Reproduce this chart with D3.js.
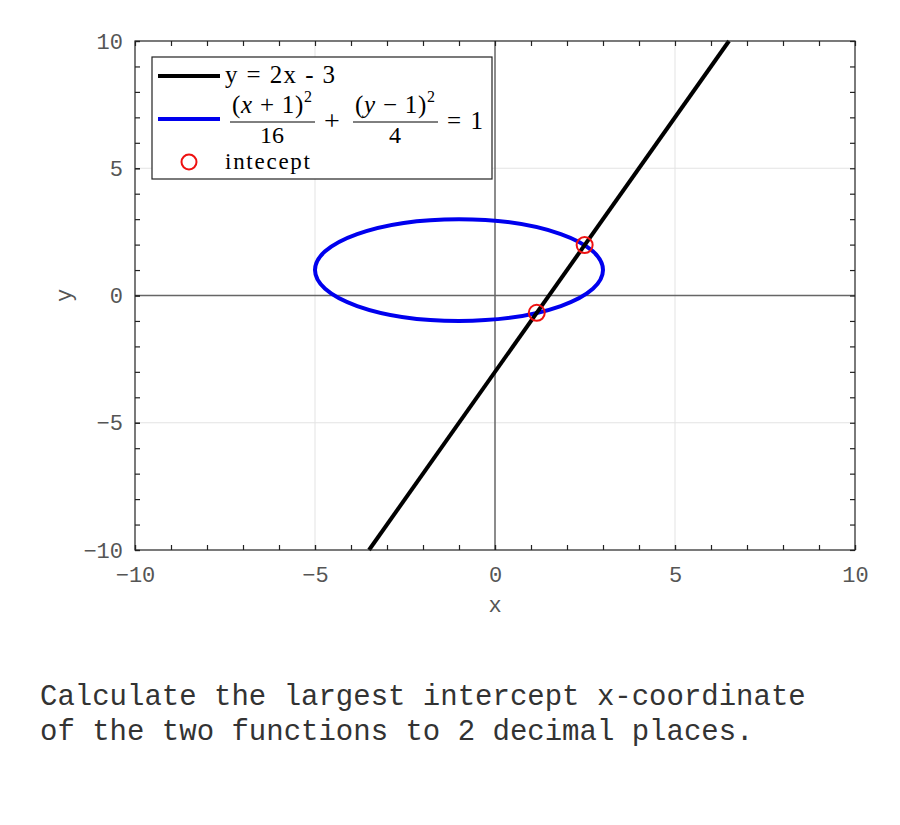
<!DOCTYPE html>
<html>
<head>
<meta charset="utf-8">
<script src="https://cdn.jsdelivr.net/npm/d3@7"></script>
<style>
  body { margin: 0; background: #fff; }
  .tick text { font-family: "Liberation Mono", monospace; font-size: 22px; fill: #555; }
</style>
</head>
<body>
<svg id="chart" width="900" height="825"></svg>
<script>
// data
var xDomain = [-10, 10];
var yDomain = [-10, 10];
var majorTicks = [-10, -5, 0, 5, 10];
var gridValues = [-5, 5];
var lineX = [-3.5, 6.5];          // y = 2x - 3, end points at plot edges
var lineY = [-10, 10];
var ellipseCenter = [-1, 1];      // (x+1)^2/16 + (y-1)^2/4 = 1
var ellipseRadii = [4, 2];
var interceptX = [1.16, 2.49];
var interceptY = [-0.68, 1.98];
var question = ["Calculate the largest intercept x-coordinate",
                "of the two functions to 2 decimal places."];

var margin = { top: 41, right: 45, bottom: 275, left: 135 };
var svgWidth = 900, svgHeight = 825;
var width = svgWidth - margin.left - margin.right;
var height = svgHeight - margin.top - margin.bottom;

var svg = d3.select("#chart");
var chartGroup = svg.append("g")
  .attr("transform", `translate(${margin.left}, ${margin.top})`);

var x = d3.scaleLinear().domain(xDomain).range([0, width]);
var y = d3.scaleLinear().domain(yDomain).range([height, 0]);

// grid lines
chartGroup.selectAll(".gx").data(gridValues).enter().append("line")
  .attr("x1", d => x(d)).attr("x2", d => x(d))
  .attr("y1", 0).attr("y2", height)
  .attr("stroke", "#e3e3e3").attr("stroke-width", 1);
chartGroup.selectAll(".gy").data(gridValues).enter().append("line")
  .attr("y1", d => y(d)).attr("y2", d => y(d))
  .attr("x1", 0).attr("x2", width)
  .attr("stroke", "#e3e3e3").attr("stroke-width", 1);

// x = 0 and y = 0 lines
chartGroup.append("line")
  .attr("x1", x(0)).attr("x2", x(0)).attr("y1", 0).attr("y2", height)
  .attr("stroke", "#666").attr("stroke-width", 1.5);
chartGroup.append("line")
  .attr("x1", 0).attr("x2", width).attr("y1", y(0)).attr("y2", y(0))
  .attr("stroke", "#666").attr("stroke-width", 1.5);

// ellipse
chartGroup.append("ellipse")
  .attr("cx", x(ellipseCenter[0]))
  .attr("cy", y(ellipseCenter[1]))
  .attr("rx", x(ellipseCenter[0] + ellipseRadii[0]) - x(ellipseCenter[0]))
  .attr("ry", y(ellipseCenter[1]) - y(ellipseCenter[1] + ellipseRadii[1]))
  .attr("fill", "none")
  .attr("stroke", "#0000ee")
  .attr("stroke-width", 4);

// straight line
var linePts = lineX.map((d, i) => [d, lineY[i]]);
chartGroup.append("path")
  .datum(linePts)
  .attr("d", d3.line().x(d => x(d[0])).y(d => y(d[1])))
  .attr("fill", "none")
  .attr("stroke", "#000")
  .attr("stroke-width", 4);

// intercept markers
chartGroup.selectAll(".pt").data(interceptX).enter().append("circle")
  .attr("cx", d => x(d))
  .attr("cy", (d, i) => y(interceptY[i]))
  .attr("r", 8)
  .attr("fill", "none")
  .attr("stroke", "#ee1111")
  .attr("stroke-width", 2);

// axes: inward ticks on all four sides, minor ticks every unit
var minor = d3.range(xDomain[0], xDomain[1] + 1);
function styleAxis(g) {
  g.select(".domain").remove();
  g.selectAll(".tick line").attr("stroke", "#222").attr("stroke-width", 1.2);
}
var fmt = d => d < 0 ? "\u2212" + Math.abs(d) : d;
chartGroup.append("g").attr("transform", `translate(0, ${height})`)
  .call(d3.axisBottom(x).tickValues(majorTicks).tickSizeInner(-5).tickPadding(16).tickFormat(fmt))
  .call(styleAxis);
chartGroup.append("g").attr("transform", `translate(0, ${height})`)
  .call(d3.axisBottom(x).tickValues(minor).tickSizeInner(-5).tickFormat(""))
  .call(styleAxis);
chartGroup.append("g")
  .call(d3.axisTop(x).tickValues(minor).tickSizeInner(-5).tickFormat(""))
  .call(styleAxis);
chartGroup.append("g")
  .call(d3.axisLeft(y).tickValues(majorTicks).tickSizeInner(-5).tickPadding(12).tickFormat(fmt))
  .call(styleAxis);
chartGroup.append("g")
  .call(d3.axisLeft(y).tickValues(minor).tickSizeInner(-5).tickFormat(""))
  .call(styleAxis);
chartGroup.append("g").attr("transform", `translate(${width}, 0)`)
  .call(d3.axisRight(y).tickValues(minor).tickSizeInner(-5).tickFormat(""))
  .call(styleAxis);

// frame
chartGroup.append("rect")
  .attr("width", width).attr("height", height)
  .attr("fill", "none").attr("stroke", "#222").attr("stroke-width", 1.2);

// axis labels
chartGroup.append("text")
  .attr("x", width / 2).attr("y", height + 62)
  .attr("text-anchor", "middle")
  .attr("font-family", "Liberation Mono, monospace").attr("font-size", 22).attr("fill", "#555")
  .text("x");
chartGroup.append("text")
  .attr("transform", `translate(${-64}, ${height / 2}) rotate(-90)`)
  .attr("text-anchor", "middle")
  .attr("font-family", "Liberation Mono, monospace").attr("font-size", 22).attr("fill", "#555")
  .text("y");

// legend
var legend = svg.append("g").attr("transform", "translate(152, 57)");
legend.append("rect")
  .attr("width", 340).attr("height", 122)
  .attr("fill", "#fff").attr("stroke", "#222").attr("stroke-width", 1.2);
legend.append("line").attr("x1", 6).attr("x2", 68).attr("y1", 19).attr("y2", 19)
  .attr("stroke", "#000").attr("stroke-width", 4);
legend.append("line").attr("x1", 6).attr("x2", 68).attr("y1", 62).attr("y2", 62)
  .attr("stroke", "#0000ee").attr("stroke-width", 4);
legend.append("circle").attr("cx", 37).attr("cy", 105).attr("r", 7.5)
  .attr("fill", "none").attr("stroke", "#ee1111").attr("stroke-width", 2);

var serif = "Liberation Serif, serif";
legend.append("text").attr("x", 73).attr("y", 26)
  .attr("font-family", serif).attr("font-size", 25)
  .attr("textLength", 110).attr("lengthAdjust", "spacing")
  .text("y = 2x - 3");

function fraction(cx, num, den) {
  var g = legend.append("g");
  var t = g.append("text").attr("x", cx - 40).attr("y", 56)
    .attr("font-family", serif).attr("font-size", 25)
    .attr("textLength", 80).attr("lengthAdjust", "spacing");
  t.append("tspan").text("(");
  t.append("tspan").attr("font-style", "italic").text(num[0]);
  t.append("tspan").text(num[1]);
  t.append("tspan").attr("font-size", 16).attr("dy", -11).text("2");
  g.append("line").attr("x1", cx - 42).attr("x2", cx + 43).attr("y1", 65).attr("y2", 65)
    .attr("stroke", "#000").attr("stroke-width", 1);
  g.append("text").attr("x", cx).attr("y", 86).attr("text-anchor", "middle")
    .attr("font-family", serif).attr("font-size", 24).text(den);
}
fraction(120, ["x", " + 1)"], "16");
legend.append("text").attr("x", 180).attr("y", 73).attr("text-anchor", "middle")
  .attr("font-family", serif).attr("font-size", 28).text("+");
fraction(243, ["y", " \u2212 1)"], "4");
legend.append("text").attr("x", 295).attr("y", 72)
  .attr("font-family", serif).attr("font-size", 25)
  .attr("textLength", 36).attr("lengthAdjust", "spacing")
  .text("= 1");
legend.append("text").attr("x", 73).attr("y", 112)
  .attr("font-family", serif).attr("font-size", 23)
  .attr("textLength", 85).attr("lengthAdjust", "spacing")
  .text("intecept");

// question text
svg.selectAll(".q").data(question).enter().append("text")
  .attr("x", 40).attr("y", (d, i) => 705 + i * 35)
  .attr("font-family", "Liberation Mono, monospace").attr("font-size", 29).attr("fill", "#333")
  .attr("xml:space", "preserve")
  .text(d => d);
</script>
</body>
</html>
